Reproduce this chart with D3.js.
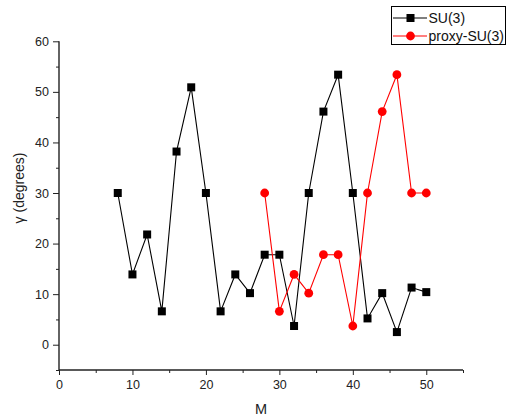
<!DOCTYPE html>
<html>
<head>
<meta charset="utf-8">
<script src="https://cdn.jsdelivr.net/npm/d3@7"></script>
<style>
  html, body { margin: 0; padding: 0; background: #fff; }
  svg { display: block; font-family: "Liberation Sans", Arial, sans-serif; }
</style>
</head>
<body>
<svg id="chart" width="517" height="420"></svg>
<script>
const su3M = [8, 10, 12, 14, 16, 18, 20, 22, 24, 26, 28, 30, 32, 34, 36, 38, 40, 42, 44, 46, 48, 50];
const su3Gamma = [30, 13.9, 21.8, 6.6, 38.2, 50.9, 30, 6.6, 13.9, 10.2, 17.8, 17.8, 3.7, 30, 46.1, 53.4, 30, 5.2, 10.2, 2.5, 11.3, 10.4];
const proxyM = [28, 30, 32, 34, 36, 38, 40, 42, 44, 46, 48, 50];
const proxyGamma = [30, 6.6, 13.9, 10.2, 17.8, 17.8, 3.7, 30, 46.1, 53.4, 30, 30];
const xTicks = [0, 10, 20, 30, 40, 50];
const yTicks = [0, 10, 20, 30, 40, 50, 60];
const seriesNames = ["SU(3)", "proxy-SU(3)"];
const seriesColors = ["#000000", "#ff0000"];

const svg = d3.select("#chart");
const margin = { left: 59, right: 54, top: 41.3, bottom: 50 };
const W = 517, H = 420;

const x = d3.scaleLinear().domain([0, 55]).range([margin.left, W - margin.right]);
const y = d3.scaleLinear().domain([-5, 60]).range([H - margin.bottom, margin.top]);

// minor ticks
const xMinor = d3.range(5, 56, 10);
const yMinor = d3.range(-5, 60, 10);

const gx = svg.append("g").attr("transform", `translate(0,${H - margin.bottom})`);
gx.call(d3.axisBottom(x).tickValues(xMinor).tickSize(3).tickFormat(""));
gx.call(g => g.selectAll(".domain").remove());
const gx2 = svg.append("g").attr("transform", `translate(0,${H - margin.bottom})`);
gx2.call(d3.axisBottom(x).tickValues(xTicks).tickSize(5).tickPadding(5).tickFormat(d3.format("d")));
gx2.select(".domain").attr("d", `M${x(0)},0H${x(55)}`).attr("stroke-width", 1.4);
gx2.selectAll("text").attr("font-size", "12.5px").attr("fill", "#222");

const gy = svg.append("g").attr("transform", `translate(${margin.left},0)`);
gy.call(d3.axisLeft(y).tickValues(yMinor).tickSize(3).tickFormat(""));
gy.call(g => g.selectAll(".domain").remove());
const gy2 = svg.append("g").attr("transform", `translate(${margin.left},0)`);
gy2.call(d3.axisLeft(y).tickValues(yTicks).tickSize(6).tickPadding(4).tickFormat(d3.format("d")));
gy2.select(".domain").attr("d", `M0,${y(-5)}V${y(60)}`).attr("stroke-width", 1.4);
gy2.selectAll("text").attr("font-size", "12.5px").attr("fill", "#222");
svg.selectAll(".tick line").attr("stroke", "#222");
svg.selectAll(".domain").attr("stroke", "#222");

// axis titles
svg.append("text")
  .attr("x", 261).attr("y", 414)
  .attr("text-anchor", "middle").attr("font-size", "14.5px").attr("fill", "#222")
  .text("M");
svg.append("text")
  .attr("transform", `translate(24,188) rotate(-90)`)
  .attr("text-anchor", "middle").attr("font-size", "14px").attr("fill", "#222")
  .text("γ (degrees)");

const line = d3.line().x(d => x(d[0])).y(d => y(d[1]));

const su3Data = su3M.map((m, i) => [m, su3Gamma[i]]);
const proxyData = proxyM.map((m, i) => [m, proxyGamma[i]]);

svg.append("path").datum(su3Data).attr("d", line)
  .attr("fill", "none").attr("stroke", seriesColors[0]).attr("stroke-width", 1.1);
svg.append("path").datum(proxyData).attr("d", line)
  .attr("fill", "none").attr("stroke", seriesColors[1]).attr("stroke-width", 1.1);

svg.selectAll("rect.su3").data(su3Data).enter().append("rect")
  .attr("class", "su3")
  .attr("x", d => x(d[0]) - 4).attr("y", d => y(d[1]) - 4)
  .attr("width", 8).attr("height", 8).attr("fill", seriesColors[0]);

svg.selectAll("circle.proxy").data(proxyData).enter().append("circle")
  .attr("class", "proxy")
  .attr("cx", d => x(d[0])).attr("cy", d => y(d[1]))
  .attr("r", 4.4).attr("fill", seriesColors[1]);

// legend
const lg = svg.append("g");
lg.append("rect").attr("x", 391.5).attr("y", 6.5).attr("width", 114).attr("height", 38)
  .attr("fill", "#fff").attr("stroke", "#000").attr("stroke-width", 1);
const rows = [18, 36];
seriesNames.forEach((name, i) => {
  const yy = rows[i];
  lg.append("line").attr("x1", 393).attr("x2", 427).attr("y1", yy).attr("y2", yy)
    .attr("stroke", seriesColors[i]).attr("stroke-width", 1.1);
  if (i === 0) {
    lg.append("rect").attr("x", 410.5 - 4).attr("y", yy - 4).attr("width", 8).attr("height", 8)
      .attr("fill", seriesColors[i]);
  } else {
    lg.append("circle").attr("cx", 410.5).attr("cy", yy).attr("r", 4.4).attr("fill", seriesColors[i]);
  }
  lg.append("text").attr("x", 428.5).attr("y", yy + 5).attr("font-size", "14px").attr("fill", "#111")
    .text(name);
});
</script>
</body>
</html>
